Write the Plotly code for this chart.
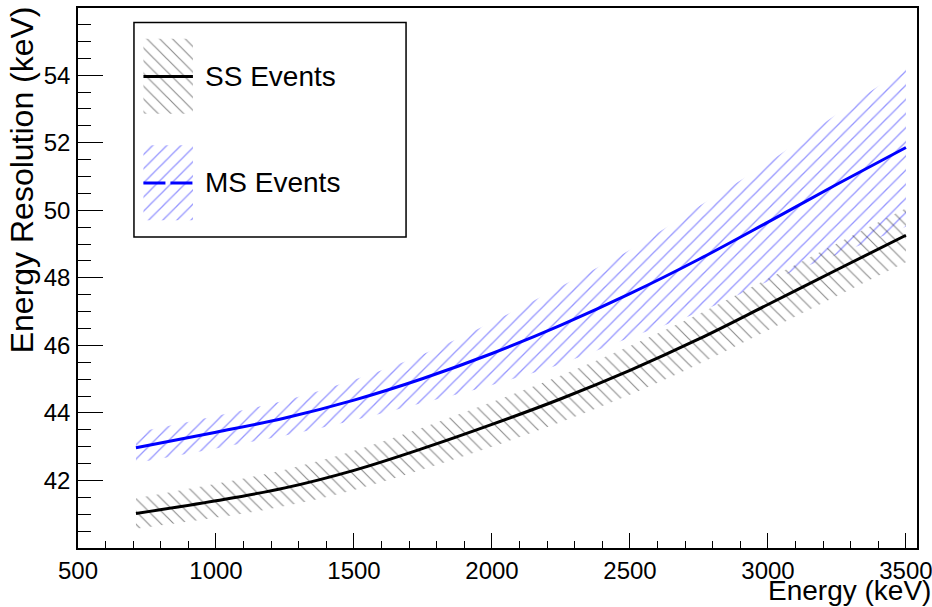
import plotly.graph_objects as go

# ---------------- data ----------------
energy = [710, 1000, 1250, 1500, 1750, 2000, 2250, 2500, 2750, 3000, 3250, 3500]
ss_res = [41.02, 41.40, 41.78, 42.30, 42.95, 43.66, 44.42, 45.26, 46.19, 47.21, 48.24, 49.26]
ss_err = [0.45, 0.50, 0.54, 0.58, 0.62, 0.66, 0.69, 0.72, 0.74, 0.76, 0.78, 0.80]
ms_res = [42.97, 43.43, 43.85, 44.38, 45.02, 45.76, 46.60, 47.53, 48.55, 49.65, 50.77, 51.86]
ms_err = [0.45, 0.48, 0.52, 0.60, 0.72, 0.93, 1.15, 1.30, 1.57, 1.76, 2.08, 2.35]

series_names = ["SS Events", "MS Events"]
x_ticks = [500, 1000, 1500, 2000, 2500, 3000, 3500]
y_ticks = [42, 44, 46, 48, 50, 52, 54]

FONT = "Liberation Sans, Arial, Helvetica, sans-serif"
SS_LINE = "#000000"
MS_LINE = "#0000ff"
SS_HATCH = dict(shape="\\", fgcolor="rgb(30,30,30)", bgcolor="rgba(0,0,0,0)", size=9, solidity=0.13)
MS_HATCH = dict(shape="/", fgcolor="rgb(45,45,255)", bgcolor="rgba(0,0,0,0)", size=10, solidity=0.13)

ss_up = [r + e for r, e in zip(ss_res, ss_err)]
ss_lo = [r - e for r, e in zip(ss_res, ss_err)]
ms_up = [r + e for r, e in zip(ms_res, ms_err)]
ms_lo = [r - e for r, e in zip(ms_res, ms_err)]

fig = go.Figure()

# MS band
fig.add_trace(go.Scatter(x=energy, y=ms_lo, mode="lines", line=dict(width=0, shape="spline"),
                         showlegend=False, hoverinfo="skip"))
fig.add_trace(go.Scatter(x=energy, y=ms_up, mode="lines", line=dict(width=0, shape="spline"),
                         fill="tonexty", fillcolor="rgba(255,255,255,0)", fillpattern=MS_HATCH,
                         showlegend=False, hoverinfo="skip"))
# SS band
fig.add_trace(go.Scatter(x=energy, y=ss_lo, mode="lines", line=dict(width=0, shape="spline"),
                         showlegend=False, hoverinfo="skip"))
fig.add_trace(go.Scatter(x=energy, y=ss_up, mode="lines", line=dict(width=0, shape="spline"),
                         fill="tonexty", fillcolor="rgba(255,255,255,0)", fillpattern=SS_HATCH,
                         showlegend=False, hoverinfo="skip"))
# central curves
fig.add_trace(go.Scatter(x=energy, y=ss_res, mode="lines", name=series_names[0],
                         line=dict(color=SS_LINE, width=3, shape="spline"), showlegend=False))
fig.add_trace(go.Scatter(x=energy, y=ms_res, mode="lines", name=series_names[1],
                         line=dict(color=MS_LINE, width=3, shape="spline"), showlegend=False))

# ---------------- hand-made legend (overlay axes in paper units) ----------------
LEG_BOX = (0.0667, 0.576, 0.391, 0.973)
SW_X = (0.078, 0.137)
ROWS = [  # (hatch y0, hatch y1, line y)
    (0.804, 0.943, 0.873),
    (0.607, 0.746, 0.676),
]
hatches = [SS_HATCH, MS_HATCH]
lcolors = [SS_LINE, MS_LINE]
ldash = ["solid", "22px,5px"]
for (y0, y1, yl), hp, lc, ld in zip(ROWS, hatches, lcolors, ldash):
    fig.add_trace(go.Scatter(x=[SW_X[0], SW_X[1], SW_X[1], SW_X[0], SW_X[0]],
                             y=[y0, y0, y1, y1, y0], xaxis="x2", yaxis="y2",
                             mode="lines", line=dict(width=0), fill="toself",
                             fillcolor="rgba(255,255,255,0)", fillpattern=hp,
                             showlegend=False, hoverinfo="skip"))
    fig.add_trace(go.Scatter(x=[SW_X[0], SW_X[1]], y=[yl, yl], xaxis="x2", yaxis="y2",
                             mode="lines", line=dict(color=lc, width=3, dash=ld),
                             showlegend=False, hoverinfo="skip"))

annotations = []
for (y0, y1, yl), name in zip(ROWS, series_names):
    annotations.append(dict(x=0.149, y=yl, xref="paper", yref="paper", text=name,
                            showarrow=False, xanchor="left", yanchor="middle",
                            font=dict(family=FONT, size=28, color="black")))
annotations.append(dict(x=1.019, y=-0.079, xref="paper", yref="paper", text="Energy (keV)",
                        showarrow=False, xanchor="right", yanchor="middle",
                        font=dict(family=FONT, size=28, color="black")))
annotations.append(dict(x=-0.0667, y=1.006, xref="paper", yref="paper",
                        text="Energy Resolution (keV)", textangle=-90,
                        showarrow=False, xanchor="center", yanchor="top",
                        font=dict(family=FONT, size=32, color="black")))

fig.update_layout(
    width=932, height=607,
    margin=dict(l=78, r=15, t=8, b=59, autoexpand=False),
    paper_bgcolor="white", plot_bgcolor="white",
    showlegend=False,
    font=dict(family=FONT, color="black"),
    annotations=annotations,
    shapes=[dict(type="rect", xref="paper", yref="paper",
                 x0=LEG_BOX[0], y0=LEG_BOX[1], x1=LEG_BOX[2], y1=LEG_BOX[3],
                 line=dict(color="black", width=1.5), fillcolor="white", layer="below")],
    xaxis=dict(range=[500, 3540], tickvals=x_ticks, ticks="inside", ticklen=15, tickwidth=1.3,
               tickcolor="black", showline=True, linecolor="black", linewidth=1.5, mirror=True,
               showgrid=False, zeroline=False, tickfont=dict(family=FONT, size=24),
               ticklabelstandoff=0, automargin=False, ticklabeloverflow="allow",
               minor=dict(dtick=100, tick0=500, ticks="inside", ticklen=7, tickwidth=1.3,
                          tickcolor="black", showgrid=False)),
    yaxis=dict(range=[40.0, 55.99], tickvals=y_ticks, ticks="inside", ticklen=25, tickwidth=1.3,
               tickcolor="black", showline=True, linecolor="black", linewidth=1.5, mirror=True,
               showgrid=False, zeroline=False, tickfont=dict(family=FONT, size=24),
               ticklabelstandoff=1, automargin=False, ticklabeloverflow="allow",
               minor=dict(dtick=0.5, tick0=40, ticks="inside", ticklen=13, tickwidth=1.3,
                          tickcolor="black", showgrid=False)),
    xaxis2=dict(overlaying="x", range=[0, 1], visible=False, fixedrange=True),
    yaxis2=dict(overlaying="y", range=[0, 1], visible=False, fixedrange=True),
)

fig.write_html("out.html", config={"displayModeBar": False},
               post_script="document.body.style.margin='0';document.body.style.overflow='hidden';")
